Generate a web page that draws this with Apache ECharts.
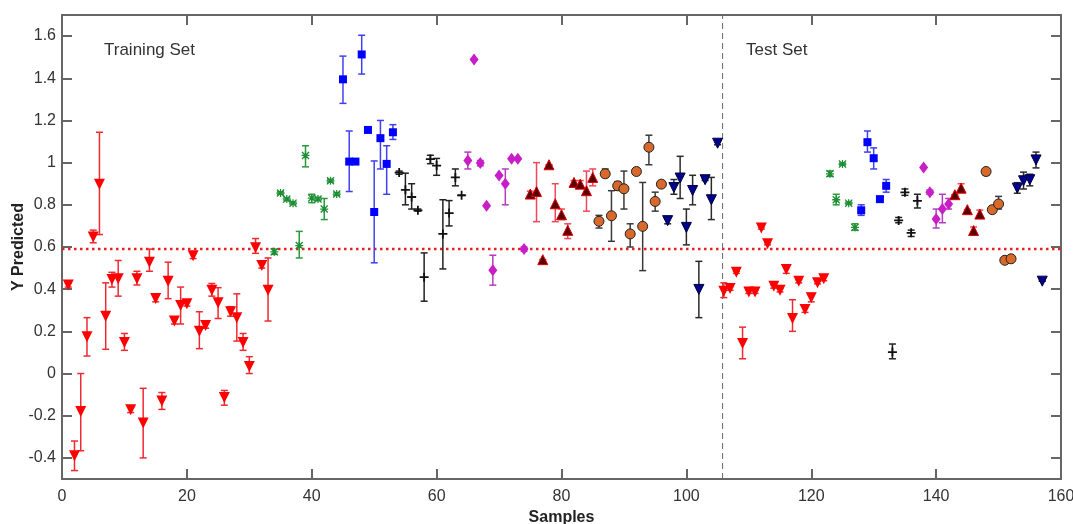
<!DOCTYPE html>
<html>
<head>
<meta charset="utf-8">
<script src="https://cdn.jsdelivr.net/npm/echarts@6/dist/echarts.min.js"></script>
<style>
html,body{margin:0;padding:0;background:#fff;}
#chart{width:1073px;height:524px;}
</style>
</head>
<body>
<div id="chart"></div>
<script>
// [sample, predicted Y, lower bound, upper bound]
const redPts = [
 [1,0.42,0.41,0.43],[2,-0.39,-0.46,-0.32],[3,-0.18,-0.366,0.0],[4,0.175,0.083,0.265],
 [5,0.648,0.62,0.68],[6,0.898,0.659,1.144],[7,0.272,0.115,0.43],[8,0.446,0.41,0.48],
 [9,0.45,0.367,0.536],[10,0.147,0.11,0.19],[11,-0.172,-0.185,-0.16],[12,0.45,0.42,0.485],
 [13,-0.235,-0.40,-0.07],[14,0.528,0.485,0.59],[15,0.356,0.34,0.37],[16,-0.13,-0.17,-0.09],
 [17,0.438,0.355,0.528],[18,0.249,0.235,0.26],[19,0.323,0.235,0.41],[20,0.331,0.32,0.34],
 [21,0.559,0.545,0.575],[22,0.2,0.118,0.293],[23,0.228,0.215,0.24],[24,0.395,0.367,0.427],
 [25,0.336,0.261,0.407],[26,-0.114,-0.15,-0.08],[27,0.293,0.272,0.317],[28,0.265,0.154,0.378],
 [29,0.147,0.11,0.19],[30,0.033,0.0,0.08],[31,0.596,0.57,0.64],[32,0.512,0.5,0.525],
 [33,0.395,0.249,0.548],
 [106,0.39,0.36,0.43],[107,0.403,0.395,0.412],[108,0.48,0.475,0.485],[109,0.142,0.07,0.22],
 [110,0.387,0.38,0.395],[111,0.387,0.38,0.395],[112,0.69,0.685,0.695],[113,0.615,0.61,0.62],
 [114,0.414,0.405,0.42],[115,0.395,0.387,0.402],[116,0.493,0.475,0.51],[117,0.261,0.2,0.35],
 [118,0.438,0.43,0.445],[119,0.304,0.29,0.32],[120,0.359,0.34,0.38],[121,0.43,0.425,0.437],
 [122,0.45,0.44,0.465]
];
const greenPts = [
 [34,0.577,0.565,0.59],[35,0.856,0.85,0.862],[36,0.827,0.82,0.833],[37,0.808,0.802,0.814],
 [38,0.607,0.548,0.674],[39,1.034,0.98,1.08],[40,0.832,0.81,0.85],[41,0.827,0.82,0.835],
 [42,0.78,0.73,0.83],[43,0.914,0.908,0.92],[44,0.851,0.845,0.857],
 [123,0.947,0.935,0.96],[124,0.824,0.80,0.85],[125,0.993,0.988,0.998],[126,0.808,0.803,0.813],
 [127,0.693,0.68,0.71]
];
const bluePts = [
 [45,1.395,1.281,1.505],[46,1.005,0.863,1.15],[47,1.005,1.0,1.01],[48,1.513,1.42,1.604],
 [49,1.155,1.15,1.16],[50,0.766,0.525,1.008],[51,1.116,0.97,1.20],[52,0.994,0.85,1.08],
 [53,1.144,1.11,1.18],
 [128,0.774,0.75,0.80],[129,1.097,1.05,1.15],[130,1.021,0.97,1.07],[131,0.827,0.822,0.832],
 [132,0.89,0.86,0.92]
];
const blackPts = [
 [54,0.953,0.945,0.96],[55,0.871,0.80,0.95],[56,0.837,0.78,0.90],[57,0.774,0.77,0.78],
 [58,0.457,0.343,0.572],[59,1.017,0.995,1.035],[60,0.986,0.94,1.02],[61,0.662,0.496,0.824],
 [62,0.761,0.70,0.82],[63,0.93,0.89,0.97],[64,0.845,0.845,0.845],
 [133,0.102,0.07,0.14],[134,0.726,0.715,0.74],[135,0.859,0.845,0.875],[136,0.667,0.65,0.68],
 [137,0.819,0.785,0.85]
];
const magentaPts = [
 [65,1.01,0.97,1.05],[66,1.489,1.489,1.489],[67,0.998,0.985,1.01],[68,0.796,0.796,0.796],
 [69,0.49,0.419,0.561],[70,0.939,0.939,0.939],[71,0.9,0.80,0.97],[72,1.018,1.018,1.018],
 [73,1.018,1.018,1.018],[74,0.591,0.58,0.60],
 [138,0.977,0.977,0.977],[139,0.859,0.85,0.87],[140,0.733,0.69,0.78],[141,0.78,0.715,0.85],
 [142,0.804,0.78,0.83]
];
const darkRedPts = [
 [75,0.851,0.84,0.865],[76,0.863,0.72,1.0],[77,0.54,0.54,0.54],[78,0.99,0.99,0.99],
 [79,0.805,0.72,0.90],[80,0.753,0.73,0.78],[81,0.679,0.64,0.71],[82,0.906,0.895,0.915],
 [83,0.898,0.88,0.915],[84,0.867,0.77,0.96],[85,0.93,0.89,0.97],
 [143,0.848,0.848,0.848],[144,0.879,0.86,0.90],[145,0.777,0.777,0.777],[146,0.678,0.66,0.695],
 [147,0.756,0.74,0.775]
];
const orangePts = [
 [86,0.722,0.69,0.75],[87,0.947,0.93,0.97],[88,0.748,0.627,0.867],[89,0.89,0.87,0.91],
 [90,0.876,0.78,0.96],[91,0.662,0.60,0.71],[92,0.958,0.958,0.958],[93,0.698,0.488,0.906],
 [94,1.073,0.99,1.13],[95,0.816,0.77,0.86],[96,0.898,0.898,0.898],
 [148,0.958,0.94,0.97],[149,0.777,0.777,0.777],[150,0.804,0.78,0.84],[151,0.537,0.537,0.537],
 [152,0.544,0.544,0.544]
];
const navyPts = [
 [97,0.725,0.71,0.74],[98,0.882,0.85,0.92],[99,0.927,0.83,1.03],[100,0.693,0.61,0.78],
 [101,0.868,0.80,0.94],[102,0.399,0.265,0.532],[103,0.919,0.915,0.923],[104,0.824,0.73,0.93],
 [105,1.092,1.085,1.10],
 [153,0.879,0.855,0.905],[154,0.914,0.875,0.955],[155,0.919,0.89,0.945],[156,1.013,0.975,1.05],
 [157,0.438,0.438,0.438]
];
const xTicks = [0,20,40,60,80,100,120,140,160];
const yTicks = [-0.4,-0.2,0,0.2,0.4,0.6,0.8,1,1.2,1.4,1.6];
const refY = 0.59;      // dotted threshold line
const splitX = 105.8;   // training / test boundary
const labels = {train:'Training Set', test:'Test Set', xName:'Samples', yName:'Y Predicted'};

const PLUS = 'path://M4,0L6,0L6,4L10,4L10,6L6,6L6,10L4,10L4,6L0,6L0,4L4,4Z';
const STAR = 'path://M4.2,0L5.8,0L5.8,4.2L10,4.2L10,5.8L5.8,5.8L5.8,10L4.2,10L4.2,5.8L0,5.8L0,4.2L4.2,4.2Z M1.2,0L5,3.8L8.8,0L10,1.2L6.2,5L10,8.8L8.8,10L5,6.2L1.2,10L0,8.8L3.8,5L0,1.2Z';

function errSeries(data, color){
  return {
    type:'custom', data:data, z:2, silent:true,
    encode:{x:0, y:1},
    renderItem:function(params, api){
      const x = api.value(0), lo = api.value(2), hi = api.value(3);
      const a = api.coord([x, lo]), b = api.coord([x, hi]);
      const w = 3.5;
      const st = {stroke:color, lineWidth:1.5};
      return {type:'group', children:[
        {type:'line', shape:{x1:a[0],y1:a[1],x2:b[0],y2:b[1]}, style:st},
        {type:'line', shape:{x1:a[0]-w,y1:a[1],x2:a[0]+w,y2:a[1]}, style:st},
        {type:'line', shape:{x1:b[0]-w,y1:b[1],x2:b[0]+w,y2:b[1]}, style:st}
      ]};
    }
  };
}
function markSeries(data, symbol, size, color, rotate, border, bw){
  return {
    type:'scatter', data:data, z:3, symbol:symbol, symbolSize:size, symbolRotate:rotate||0,
    encode:{x:0, y:1},
    itemStyle:{color:color, borderColor:border||color, borderWidth:bw||0, opacity:1}
  };
}

const axisLineStyle = {color:'#666', width:2};
const chart = echarts.init(document.getElementById('chart'), null, {renderer:'canvas'});
chart.setOption({
  backgroundColor:'#fff',
  animation:false,
  grid:{left:62, right:12, top:15, bottom:45, outerBoundsMode:'none', containLabel:false},
  xAxis:[{
    type:'value', min:0, max:160, interval:20, position:'bottom',
    name:labels.xName, nameLocation:'middle', nameGap:28,
    nameTextStyle:{fontFamily:'Liberation Sans, Arial', fontSize:16, fontWeight:'bold', color:'#222'},
    axisLine:{show:true, onZero:false, lineStyle:axisLineStyle},
    axisTick:{show:true, inside:true, length:10, lineStyle:axisLineStyle},
    axisLabel:{fontFamily:'Liberation Sans, Arial', fontSize:16, color:'#333', margin:10},
    splitLine:{show:false}
  },{
    type:'value', min:0, max:160, interval:20, position:'top',
    axisLine:{show:true, onZero:false, lineStyle:axisLineStyle},
    axisTick:{show:true, inside:true, length:10, lineStyle:axisLineStyle},
    axisLabel:{show:false}, splitLine:{show:false}
  }],
  yAxis:[{
    type:'value', min:-0.5, max:1.7, position:'left',
    name:labels.yName, nameLocation:'middle', nameGap:35, nameRotate:90, nameMoveOverlap:false,
    nameTextStyle:{fontFamily:'Liberation Sans, Arial', fontSize:16, fontWeight:'bold', color:'#222'},
    axisLine:{show:true, onZero:false, lineStyle:axisLineStyle},
    axisTick:{show:true, inside:true, length:10, lineStyle:axisLineStyle, customValues:yTicks},
    axisLabel:{fontFamily:'Liberation Sans, Arial', fontSize:16, color:'#333', margin:6, customValues:yTicks},
    splitLine:{show:false}
  },{
    type:'value', min:-0.5, max:1.7, position:'right',
    axisLine:{show:true, onZero:false, lineStyle:axisLineStyle},
    axisTick:{show:true, inside:true, length:10, lineStyle:axisLineStyle, customValues:yTicks},
    axisLabel:{show:false}, splitLine:{show:false}
  }],
  graphic:[
    {type:'text', left:104, top:42, style:{text:labels.train, fontFamily:'Liberation Sans, Arial', fontSize:17, fill:'#333'}},
    {type:'text', left:746, top:42, style:{text:labels.test, fontFamily:'Liberation Sans, Arial', fontSize:17, fill:'#333'}}
  ],
  series:[
    {type:'line', data:[[0,refY],[160,refY]], symbol:'none', z:1, silent:true,
     lineStyle:{color:'#e62020', width:2.5, type:[2.5,3.5]}},
    {type:'line', data:[[splitX,-0.5],[splitX,1.7]], symbol:'none', z:1, silent:true,
     lineStyle:{color:'#666', width:1, type:[6,4]}},
    errSeries(redPts, '#ee2a30'),
    errSeries(greenPts, '#2a9a3c'),
    errSeries(bluePts, '#4040f0'),
    errSeries(blackPts, '#222'),
    errSeries(magentaPts, '#b43cc0'),
    errSeries(darkRedPts, '#f04858'),
    errSeries(orangePts, '#3a3a3a'),
    errSeries(navyPts, '#2a2a2a'),
    markSeries(redPts, 'triangle', 11, '#ff0000', 180),
    markSeries(greenPts, STAR, 8, '#1e8e34'),
    markSeries(bluePts, 'rect', 8, '#0000ff'),
    markSeries(blackPts, PLUS, 9, '#111'),
    markSeries(magentaPts, 'diamond', [9,12], '#c81ec8'),
    markSeries(darkRedPts, 'triangle', 10, '#5a0000', 0, '#e00000', 1),
    markSeries(orangePts, 'circle', 10, '#d8692a', 0, '#222', 1),
    markSeries(navyPts, 'triangle', 10, '#00008b', 180, '#000040', 1)
  ]
});
</script>
</body>
</html>
